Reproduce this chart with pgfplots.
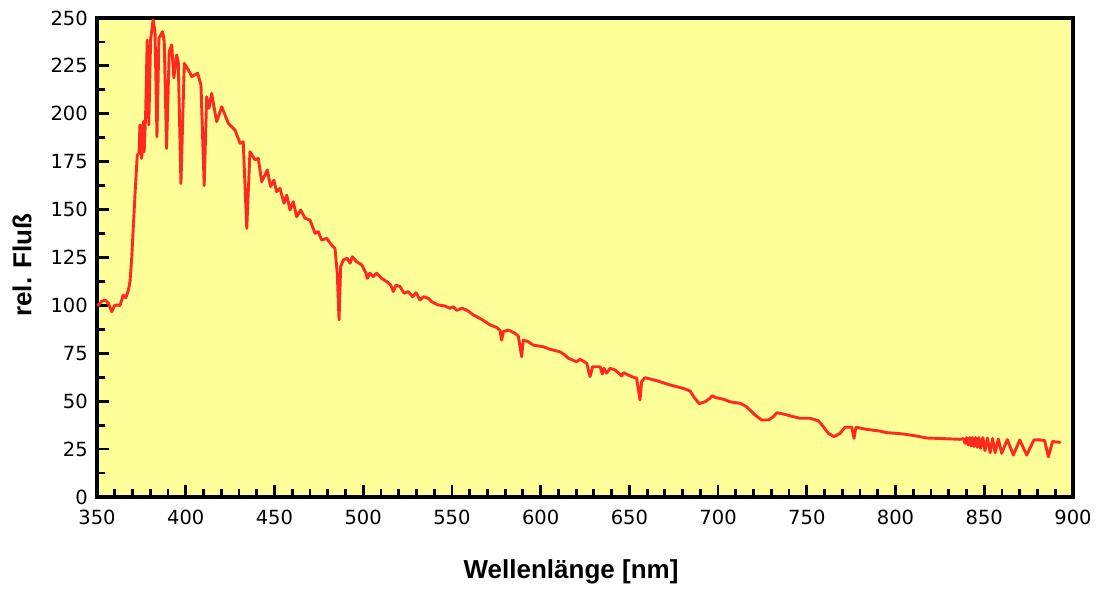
\documentclass[border=0pt]{standalone}
\usepackage{fontspec}
\setmainfont{DejaVu Sans}
\newfontfamily\labfont{Liberation Sans}
\usepackage{pgfplots}
\pgfplotsset{compat=1.18}
\definecolor{bgyellow}{HTML}{FFFF99}
\definecolor{specred}{HTML}{FF2A1F}

\begin{document}
\begin{tikzpicture}
\useasboundingbox (-97pt,-92pt) rectangle (1009pt,497pt);
\begin{axis}[
  scale only axis,
  width=976pt, height=479pt,
  xmin=350, xmax=900, ymin=0, ymax=250,
  xtick={350,400,...,900},
  ytick={0,25,...,250},
  minor x tick num=4,
  minor y tick num=1,
  xtick pos=left, ytick pos=left,
  tick align=inside,
  major tick length=12pt,
  minor tick length=8pt,
  every tick/.style={black, line width=2.8pt},
  axis line style={black, line width=3.2pt},
  axis background/.style={fill=bgyellow},
  /pgf/number format/assume math mode=true,
  tick label style={font=\fontsize{19.5}{22}\selectfont, inner sep=0pt, black},
  xticklabel style={yshift=-12.5pt},
  yticklabel style={xshift=-9pt},
  xlabel={Wellenlänge [nm]},
  ylabel={rel. Fluß},
  label style={font=\labfont\bfseries\fontsize{26}{30}\selectfont},
  xlabel style={at={(axis description cs:0.4857,-0.1566)}, anchor=center},
  ylabel style={at={(axis description cs:-0.0768,0.4843)}, anchor=center, rotate=0},
]
\addplot[color=specred, line width=2.9pt, no marks, line join=round, line cap=round] coordinates {
(350.7,100.2) (352.5,102) (354.5,102.8) (356.4,101.2) (358.3,96.7) (360.1,100.2)
(363,100) (364.8,105.4) (366.2,103.9) (367.7,108) (368.6,112.4) (369.5,123.7)
(371.4,157.6) (372.7,178.5) (373.7,179.4) (374.2,194.2) (375.2,176.7) (376.1,196)
(376.6,180.2) (377.4,199.4) (378.3,238.5) (379.2,194.2) (380.2,238.5) (381.6,249)
(382.7,242.9) (383.8,188) (384.9,239.4) (387,242.9) (387.9,237.7) (389.2,181.9)
(390.7,232.4) (392.1,236) (393.3,218.7) (394.9,230.7) (395.8,227.2) (397.3,163.6)
(399.2,226.3) (401.5,222.9) (403.4,219.4) (405.2,220.4) (406.7,221.2) (408.6,215)
(410.4,162.5) (411.8,208.9) (413.1,202.9) (414.6,210.7) (417.4,195.9) (420.3,203.7)
(424,195) (427.8,191.5) (430.6,184.6) (432.4,185.4) (434.4,140.2) (436.2,180.2)
(439,176) (440.9,176.7) (442.8,164.6) (446,170.7) (447.8,162) (449.7,165.4)
(451.2,159.3) (453.1,161.1) (455.4,153.3) (456.9,157.6) (458.8,149.8) (460.6,154.1)
(462.5,146.3) (464.8,149.8) (467.2,145.5) (470,144.6) (472.9,137.6) (474.7,138.5)
(476.6,134.1) (479.4,135) (482.3,131.5) (484.1,129.8) (485.4,116.8) (486.4,92.4)
(487.3,120.2) (488.8,123.7) (491,124.6) (492.6,122) (493.9,125.4) (496.3,122.8)
(499.2,121.1) (501.6,116.8) (502.3,114.1) (503.8,116.8) (505.7,115) (507.6,116.8)
(510.4,114.1) (513.3,112.4) (515.5,110.6) (517,107.2) (518.5,110.6) (520.8,109.8)
(523,106.3) (525.4,107.2) (527.9,104.5) (529.8,106.6) (532,102.8) (533.9,104.5)
(536.7,103.7) (538.6,101.9) (542.3,100.2) (546.1,99.7) (548.9,98.5) (550.8,99.3)
(552.7,97.4) (555.5,98.5) (558.3,97.6) (562.1,95) (566.8,92.7) (571.5,89.8)
(575.2,88.5) (577.1,87) (578,81.9) (579,86.3) (581.8,87.2) (585.6,85.4)
(587.4,84) (589.3,73.2) (590.2,81.9) (593,81.1) (595.8,79.3) (601.5,78.4)
(605.3,77.1) (610.9,75.8) (613.7,74.1) (615.6,72.4) (620.3,70.6) (622.2,71.9)
(626,69.8) (627.8,62.8) (629.3,68) (633.5,68) (634.8,64.2) (635.7,67.2)
(637.2,64.6) (639.1,67.2) (641.9,66.3) (645.7,63.2) (646.6,64.9) (651.3,62.8)
(654.1,62) (656,50.6) (656.9,60.2) (658.8,62.3) (665.4,60.7) (672.9,58.5)
(680.4,56.7) (684.2,55.3) (686.5,52) (689.4,48.7) (692.6,49.7) (695.4,51.5)
(696.7,52.9) (698.3,52) (703,51) (706.7,49.7) (712.4,48.9) (716.1,47.1)
(720.8,42.8) (724.6,40.2) (728.3,40.2) (731.2,41.9) (733.1,44) (736.8,43.3)
(742.5,41.9) (746.2,41.1) (751.8,41.1) (756.5,39.8) (759.3,36.7) (762.1,33.2)
(765.3,31.5) (768.7,33.2) (771.5,36.4) (775.3,36.4) (776.6,30.6) (777.7,36.4)
(783.7,35.3) (791.2,34.4) (795,33.6) (804.4,32.9) (811.9,31.8) (817.5,30.8)
(828.8,30.4) (836.3,30.1) (838.2,30.5) (839.2,28) (840.1,31) (841,27.1)
(841.8,31) (842.5,26.6) (843.3,31) (844.2,26.3) (845.1,31) (846.1,25.9)
(847,31) (848,25.4) (849.2,31) (850.4,24.2) (851.8,30.8) (853.3,23.1)
(854.7,30.5) (856.1,23.1) (857.9,30.3) (859.8,22.8) (863,30) (866.4,21.9)
(870,29.8) (873.9,21.9) (878,29.8) (881,29.8) (884,29.5) (886.1,21)
(888.5,29) (892.7,28.5)
};
\end{axis}
\end{tikzpicture}
\end{document}
